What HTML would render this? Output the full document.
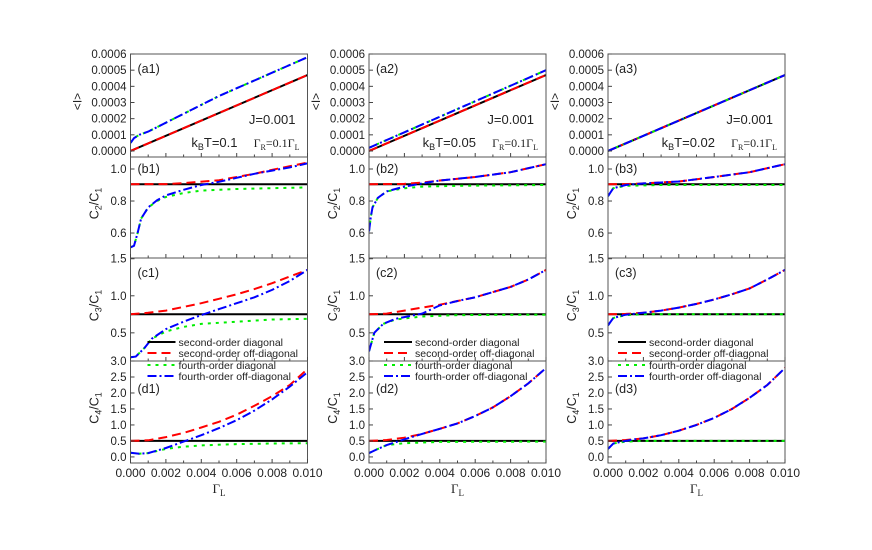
<!DOCTYPE html>
<html><head><meta charset="utf-8"><style>
body{margin:0;background:#fff}
svg text{font-family:"Liberation Sans",sans-serif;fill:#222}
.serif{font-family:"Liberation Serif",serif}
</style></head><body>
<svg id="chart" width="872" height="545" xmlns="http://www.w3.org/2000/svg"></svg>
<script>
const xTicks=[0,0.002,0.004,0.006,0.008,0.010];
const xTickLabels=["0.000","0.002","0.004","0.006","0.008","0.010"];
const kbtLabels=["k_BT=0.1","k_BT=0.05","k_BT=0.02"];
// panel a: <I>
const a_black=[[[0,0],[0.01,0.00047]],[[0,0],[0.01,0.00047]],[[0,0],[0.01,0.00047]]];
const a_blue=[[[0,0.00005],[0.0002,0.00008],[0.0005,0.0001],[0.001,0.00012],[0.005,0.00034],[0.01,0.00058]],[[0,0.00002],[0.005,0.00026],[0.01,0.0005]],[[0,0],[0.01,0.00047]]];
// panel b: C2/C1
const b_black=[0.905,0.905,0.905];
const b_red=[[[0,0.905],[0.002,0.906],[0.003,0.912],[0.005,0.93],[0.007,0.97],[0.008,0.995],[0.01,1.04]],[[0,0.905],[0.002,0.907],[0.003,0.915],[0.004,0.928],[0.006,0.95],[0.008,0.98],[0.01,1.03]],[[0,0.905],[0.001,0.906],[0.002,0.91],[0.004,0.922],[0.006,0.95],[0.008,0.98],[0.01,1.03]]];
const b_green=[[[0,0.51],[0.0002,0.52],[0.0004,0.6],[0.0006,0.69],[0.001,0.76],[0.0015,0.8],[0.002,0.825],[0.003,0.85],[0.004,0.865],[0.006,0.875],[0.008,0.88],[0.01,0.885]],[[0,0.61],[0.0001,0.7],[0.0002,0.76],[0.0005,0.82],[0.001,0.86],[0.002,0.88],[0.003,0.89],[0.005,0.895],[0.01,0.9]],[[0,0.83],[0.0003,0.88],[0.001,0.895],[0.003,0.9],[0.01,0.9]]];
const b_blue=[[[0,0.51],[0.0002,0.52],[0.0004,0.6],[0.0006,0.69],[0.001,0.76],[0.0015,0.805],[0.002,0.835],[0.003,0.87],[0.004,0.9],[0.005,0.92],[0.006,0.945],[0.007,0.97],[0.008,0.99],[0.009,1.01],[0.01,1.035]],[[0,0.61],[0.0001,0.7],[0.0002,0.76],[0.0005,0.82],[0.001,0.86],[0.002,0.89],[0.003,0.91],[0.004,0.928],[0.006,0.95],[0.008,0.98],[0.01,1.03]],[[0,0.83],[0.0003,0.88],[0.001,0.9],[0.002,0.91],[0.004,0.922],[0.006,0.95],[0.008,0.98],[0.01,1.03]]];
// panel c: C3/C1
const c_black=[0.75,0.75,0.75];
const c_red=[[[0,0.75],[0.001,0.77],[0.002,0.8],[0.003,0.85],[0.004,0.9],[0.005,0.96],[0.006,1.02],[0.007,1.09],[0.008,1.17],[0.009,1.26],[0.01,1.35]],[[0,0.75],[0.001,0.76],[0.002,0.8],[0.003,0.84],[0.004,0.88],[0.005,0.93],[0.006,0.98],[0.007,1.05],[0.008,1.12],[0.009,1.22],[0.01,1.35]],[[0,0.75],[0.001,0.755],[0.002,0.77],[0.003,0.8],[0.004,0.84],[0.005,0.89],[0.006,0.95],[0.007,1.02],[0.008,1.1],[0.009,1.22],[0.01,1.35]]];
const c_green=[[[0,0.17],[0.0003,0.18],[0.0008,0.3],[0.0012,0.42],[0.002,0.52],[0.003,0.58],[0.004,0.62],[0.006,0.65],[0.008,0.68],[0.01,0.69]],[[0,0.25],[0.0003,0.5],[0.0008,0.62],[0.0015,0.68],[0.003,0.72],[0.005,0.74],[0.01,0.745]],[[0,0.6],[0.0003,0.7],[0.001,0.74],[0.002,0.75],[0.01,0.75]]];
const c_blue=[[[0,0.17],[0.0003,0.18],[0.0008,0.3],[0.0012,0.42],[0.002,0.55],[0.003,0.65],[0.004,0.74],[0.005,0.82],[0.006,0.9],[0.007,0.98],[0.008,1.08],[0.009,1.2],[0.01,1.35]],[[0,0.25],[0.0003,0.5],[0.0008,0.62],[0.0015,0.69],[0.003,0.76],[0.004,0.87],[0.005,0.93],[0.006,0.98],[0.007,1.05],[0.008,1.12],[0.009,1.22],[0.01,1.35]],[[0,0.6],[0.0003,0.7],[0.001,0.745],[0.002,0.77],[0.003,0.8],[0.004,0.84],[0.005,0.89],[0.006,0.95],[0.007,1.02],[0.008,1.1],[0.009,1.22],[0.01,1.35]]];
// panel d: C4/C1
const d_black=[0.5,0.5,0.5];
const d_red=[[[0,0.5],[0.001,0.52],[0.002,0.62],[0.003,0.75],[0.004,0.92],[0.005,1.1],[0.006,1.32],[0.007,1.6],[0.008,1.9],[0.009,2.25],[0.01,2.75]],[[0,0.5],[0.001,0.53],[0.002,0.6],[0.003,0.72],[0.004,0.88],[0.005,1.05],[0.006,1.28],[0.007,1.55],[0.008,1.9],[0.009,2.3],[0.01,2.78]],[[0,0.5],[0.001,0.53],[0.002,0.58],[0.003,0.68],[0.004,0.82],[0.005,1.0],[0.006,1.22],[0.007,1.5],[0.008,1.85],[0.009,2.25],[0.01,2.78]]];
const d_green=[[[0,0.13],[0.0005,0.1],[0.001,0.12],[0.002,0.25],[0.003,0.32],[0.004,0.36],[0.006,0.4],[0.008,0.42],[0.01,0.43]],[[0,0.12],[0.0005,0.25],[0.001,0.37],[0.002,0.43],[0.004,0.47],[0.01,0.48]],[[0,0.25],[0.0003,0.42],[0.001,0.48],[0.002,0.5],[0.01,0.5]]];
const d_blue=[[[0,0.13],[0.0005,0.1],[0.001,0.12],[0.002,0.28],[0.003,0.48],[0.004,0.68],[0.005,0.9],[0.006,1.15],[0.007,1.45],[0.008,1.8],[0.009,2.2],[0.01,2.65]],[[0,0.12],[0.0005,0.25],[0.001,0.37],[0.002,0.55],[0.003,0.72],[0.004,0.88],[0.005,1.05],[0.006,1.28],[0.007,1.55],[0.008,1.9],[0.009,2.3],[0.01,2.78]],[[0,0.25],[0.0003,0.42],[0.001,0.5],[0.0015,0.55],[0.002,0.58],[0.003,0.68],[0.004,0.82],[0.005,1.0],[0.006,1.22],[0.007,1.5],[0.008,1.85],[0.009,2.25],[0.01,2.78]]];
const aTicks=[0,0.0001,0.0002,0.0003,0.0004,0.0005,0.0006];
const bTicks=[0.6,0.8,1.0];
const cTicks=[0.5,1.0,1.5];
const dTicks=[0.0,0.5,1.0,1.5,2.0,2.5,3.0];
const legendLabels=["second-order diagonal","second-order off-diagonal","fourth-order diagonal","fourth-order off-diagonal"];

const NS="http://www.w3.org/2000/svg";
const svg=document.getElementById('chart');
function mk(tag,attrs,parent){const e=document.createElementNS(NS,tag);for(const k in attrs)e.setAttribute(k,attrs[k]);(parent||svg).appendChild(e);return e;}
const colX0=[130.5,369,608], W=177;
const panelY=[[54,157],[157,258],[258,361],[361,463]];
const yDom=[[-0.0000371,0.0006],[0.444,1.075],[0.12,1.51],[-0.19,3.0]];
const styles=[{c:"#000",d:""},{c:"#f00",d:"9,5"},{c:"#0e0",d:"3,5"},{c:"#00f",d:"9,3,2,3"}];
const tickSets=[aTicks,bTicks,cTicks,dTicks];
const labelOff=[19,16,19,32];
function fmtTick(p,v){return p===0?v.toFixed(4):v.toFixed(1);}
for(let col=0;col<3;col++){
  const x0=colX0[col];
  const sx=v=>x0+v/0.01*W;
  for(let p=0;p<4;p++){
    const [top,bot]=panelY[p];const [lo,hi]=yDom[p];
    const sy=v=>bot-(v-lo)/(hi-lo)*(bot-top);
    const g=mk('g',{});
    
    
    const clipId='cl'+col+p;
    const cp=mk('clipPath',{id:clipId},g);mk('rect',{x:x0,y:top,width:W,height:bot-top},cp);
    let series;
    if(p===0) series=[a_black[col],a_black[col],a_blue[col],a_blue[col]];
    else {
      const bl=[b_black,c_black,d_black][p-1][col];
      series=[[[0,bl],[0.01,bl]],[b_red,c_red,d_red][p-1][col],[b_green,c_green,d_green][p-1][col],[b_blue,c_blue,d_blue][p-1][col]];
    }
    const names=['second-order-diagonal','second-order-off-diagonal','fourth-order-diagonal','fourth-order-off-diagonal'];
    series.forEach((pts,i)=>{
      const l=mk('polyline',{points:pts.map(q=>sx(q[0]).toFixed(1)+','+sy(q[1]).toFixed(1)).join(' '),fill:'none',stroke:styles[i].c,'stroke-width':2,'stroke-dasharray':styles[i].d,'clip-path':'url(#'+clipId+')'},g);
      
      
    });
    mk('rect',{x:x0,y:top,width:W,height:bot-top,fill:'none',stroke:'#555','stroke-width':1},g);
    tickSets[p].forEach(v=>{
      const y=sy(v); if(y<top-0.5||y>bot+0.5) return;
      mk('line',{x1:x0,x2:x0+4,y1:y,y2:y,stroke:'#444'},g);
      const t=mk('text',{x:x0-4,y:y+4,'text-anchor':'end','font-size':11.5},g);t.textContent=fmtTick(p,v);
      
      
    });
    for(let k=0;k<=10;k++){const x=sx(k*0.001);mk('line',{x1:x,x2:x,y1:bot,y2:bot-(k%2?2.5:4),stroke:'#444'},g);}
    const pl=mk('text',{x:x0+7,y:top+labelOff[p],'font-size':12.5},g);pl.textContent='('+'abcd'[p]+(col+1)+')';
    
    
    const cy=(top+bot)/2-4;
    if(p===0){
      const tx=x0-53;
      const t=mk('text',{x:tx,y:cy+4,'text-anchor':'middle','font-size':12,transform:'rotate(-90 '+tx+' '+cy+')'},g);t.textContent='<I>';
      
      
    } else {
      const tx=x0-36;
      const t=mk('text',{x:tx,y:cy+4,'text-anchor':'middle','font-size':12.5,transform:'rotate(-90 '+tx+' '+cy+')'},g);
      t.innerHTML='C<tspan font-size="9" dy="3">'+(p+1)+'</tspan><tspan dy="-3">/C</tspan><tspan font-size="9" dy="3">1</tspan>';
      
      
    }
  }
  xTicks.forEach((v,i)=>{const t=mk('text',{x:sx(v),y:477,'text-anchor':'middle','font-size':12});t.textContent=xTickLabels[i];
    
    });
  const xt=mk('text',{x:x0+W/2,y:493,'text-anchor':'middle','font-size':13,class:'serif'});
  xt.innerHTML='Γ<tspan font-size="9" dy="3">L</tspan>';
  
  
  const j=mk('text',{x:x0+W-12,y:124,'text-anchor':'end','font-size':13});j.textContent='J=0.001';
  
  
  const kb=kbtLabels[col].split('_B');
  const k=mk('text',{x:x0+W-70,y:147,'text-anchor':'end','font-size':13});
  k.innerHTML='k<tspan font-size="9" dy="3">B</tspan><tspan dy="-3">'+kb[1]+'</tspan>';
  
  
  const gr=mk('text',{x:x0+W-8,y:147,'text-anchor':'end','font-size':12,class:'serif'});
  gr.innerHTML='Γ<tspan font-size="8" dy="3">R</tspan><tspan dy="-3">=0.1Γ</tspan><tspan font-size="8" dy="3">L</tspan>';
  
  
  const lx=col===0?x0+17:col===1?x0+15:x0+10;
  const ly=[342,353,365,376];
  legendLabels.forEach((lab,i)=>{
    const lg=mk('g',{});
    
    
    mk('line',{x1:lx,x2:lx+28,y1:ly[i],y2:ly[i],stroke:styles[i].c,'stroke-width':2,'stroke-dasharray':styles[i].d},lg);
    const t=mk('text',{x:lx+31,y:ly[i]+4,'font-size':10.5},lg);t.textContent=lab;
  });
}
</script>
</body></html>
